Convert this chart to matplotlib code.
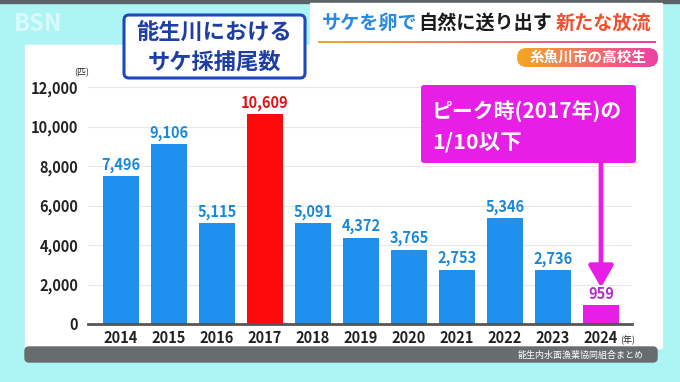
import numpy as np
import matplotlib
matplotlib.use("Agg")
import matplotlib.pyplot as plt
from matplotlib.patches import FancyBboxPatch, Rectangle

plt.rcParams['font.family'] = ['Noto Sans CJK JP', 'DejaVu Sans']

# data
years = ['2014', '2015', '2016', '2017', '2018', '2019', '2020', '2021', '2022', '2023', '2024']
catches = [7496, 9106, 5115, 10609, 5091, 4372, 3765, 2753, 5346, 2736, 959]
peak_year = '2017'
last_year = '2024'
yticks = [0, 2000, 4000, 6000, 8000, 10000, 12000]

BLUE = '#1e90f0'
RED = '#ff0a0a'
MAG = '#e61ee6'

W, H = 680, 382
fig = plt.figure(figsize=(W / 100, H / 100), dpi=100)
fig.patch.set_facecolor('#adf4f4')

# background layer in pixel coords
bg = fig.add_axes([0, 0, 1, 1], zorder=0)
bg.set_xlim(0, W)
bg.set_ylim(H, 0)
bg.axis('off')
bg.add_patch(Rectangle((0, 0), W, 3, color='#5a6466'))
bg.add_patch(Rectangle((25, 45), 637, 303, color='white'))
bg.add_patch(Rectangle((310, 3), 352, 45, color='white'))
bg.add_patch(FancyBboxPatch((25, 347), 632, 15, boxstyle='round,pad=0,rounding_size=4',
                            color='#676c6e'))
bg.text(644, 355, '能生内水面漁業協同組合まとめ', color='white', fontsize=6.5,
        ha='right', va='center')
bg.text(14, 24, 'BSN', color='white', alpha=0.55, fontsize=17, fontweight='bold',
        ha='left', va='center')
bg.text(82, 73, '(匹)', fontsize=6.5, ha='center', va='center', color='#222222')

# chart
ax = fig.add_axes([88 / W, (H - 324) / H, (632 - 88) / W, (324 - 87) / H], zorder=2)
ax.set_facecolor('none')
x = np.arange(len(years))
colors = [RED if y == peak_year else MAG if y == last_year else BLUE for y in years]
lab_colors = ['#e01010' if y == peak_year else '#b030c8' if y == last_year else '#1a88d8'
              for y in years]
ax.bar(x, catches, width=0.77, color=colors, zorder=2)
for xi, v, c in zip(x, catches, lab_colors):
    ax.text(xi, v + 170, f'{v:,}', ha='center', va='bottom', color=c,
            fontsize=10.5, fontweight='bold')

ax.set_xlim(-0.6875, 10.646)
ax.set_ylim(0, 12000)
ax.set_yticks(yticks)
ax.set_yticklabels([f'{t:,}' for t in yticks], fontsize=10.5, fontweight='bold', color='#222222')
ax.set_xticks(x)
ax.set_xticklabels(years, fontsize=10.5, fontweight='bold', color='#222222')
ax.tick_params(length=0, pad=4)
ax.tick_params(axis='y', pad=7)
for s in ['top', 'right', 'left']:
    ax.spines[s].set_visible(False)
ax.spines['bottom'].set_color('#555555')
ax.spines['bottom'].set_linewidth(2)
ax.grid(axis='y', color='#e8e8e8', linewidth=0.8, zorder=0)
ax.set_axisbelow(True)
ax.text(10.55, -0.07, '(年)', transform=ax.get_xaxis_transform(), fontsize=6.5,
        ha='center', va='center', color='#222222')

# arrow from callout to the 2024 bar
ax.annotate('', xy=(10, 1850), xytext=(10, 8150),
            arrowprops=dict(arrowstyle='-|>,head_width=0.75,head_length=1.3',
                            color=MAG, lw=3.4, shrinkA=0, shrinkB=0),
            annotation_clip=False, zorder=3)

# foreground decorations
fg = fig.add_axes([0, 0, 1, 1], zorder=3)
fg.set_xlim(0, W)
fg.set_ylim(H, 0)
fg.axis('off')
fg.patch.set_alpha(0)

fg.add_patch(FancyBboxPatch((124, 15), 181, 63, boxstyle='round,pad=0,rounding_size=5',
                            facecolor='white', edgecolor='#1d48c0', linewidth=2.2))
fg.text(214, 33, '能生川における', color='#1d3fa3', fontsize=16, fontweight='bold',
        ha='center', va='center')
fg.text(214, 62, 'サケ採捕尾数', color='#1d3fa3', fontsize=16, fontweight='bold',
        ha='center', va='center')

fg.text(322, 23, 'サケを卵で', color='#2a8ae0', fontsize=13.8, fontweight='bold',
        ha='left', va='center')
fg.text(418, 23, '自然に送り出す', color='#1a1a1a', fontsize=13.8, fontweight='bold',
        ha='left', va='center')
fg.text(556, 23, '新たな放流', color='#f05030', fontsize=13.8, fontweight='bold',
        ha='left', va='center')

grad = np.linspace(0, 1, 256).reshape(1, -1)
cmap = matplotlib.colors.LinearSegmentedColormap.from_list('og', ['#f5a623', '#ee3fa8'])
fg.imshow(grad, extent=(318, 656, 43, 41), cmap=cmap, aspect='auto')
pill = FancyBboxPatch((517, 48), 141, 19, boxstyle='round,pad=0,rounding_size=9.5',
                      facecolor='none', edgecolor='none')
fg.add_patch(pill)
im = fg.imshow(grad, extent=(517, 658, 67, 48), cmap=cmap, aspect='auto')
im.set_clip_path(pill)
fg.text(588, 57.5, '糸魚川市の高校生', color='white', fontsize=10.5, fontweight='bold',
        ha='center', va='center')

fg.add_patch(FancyBboxPatch((421, 85), 215, 78, boxstyle='round,pad=0,rounding_size=3',
                            facecolor=MAG, edgecolor='none'))
fg.text(432, 112, 'ピーク時(2017年)の', color='white', fontsize=15, fontweight='bold',
        ha='left', va='center')
fg.text(432, 142, '1/10以下', color='white', fontsize=15.5, fontweight='bold',
        ha='left', va='center')
fg.set_xlim(0, W)
fg.set_ylim(H, 0)

fig.savefig('out.png', dpi=100, facecolor=fig.get_facecolor())
